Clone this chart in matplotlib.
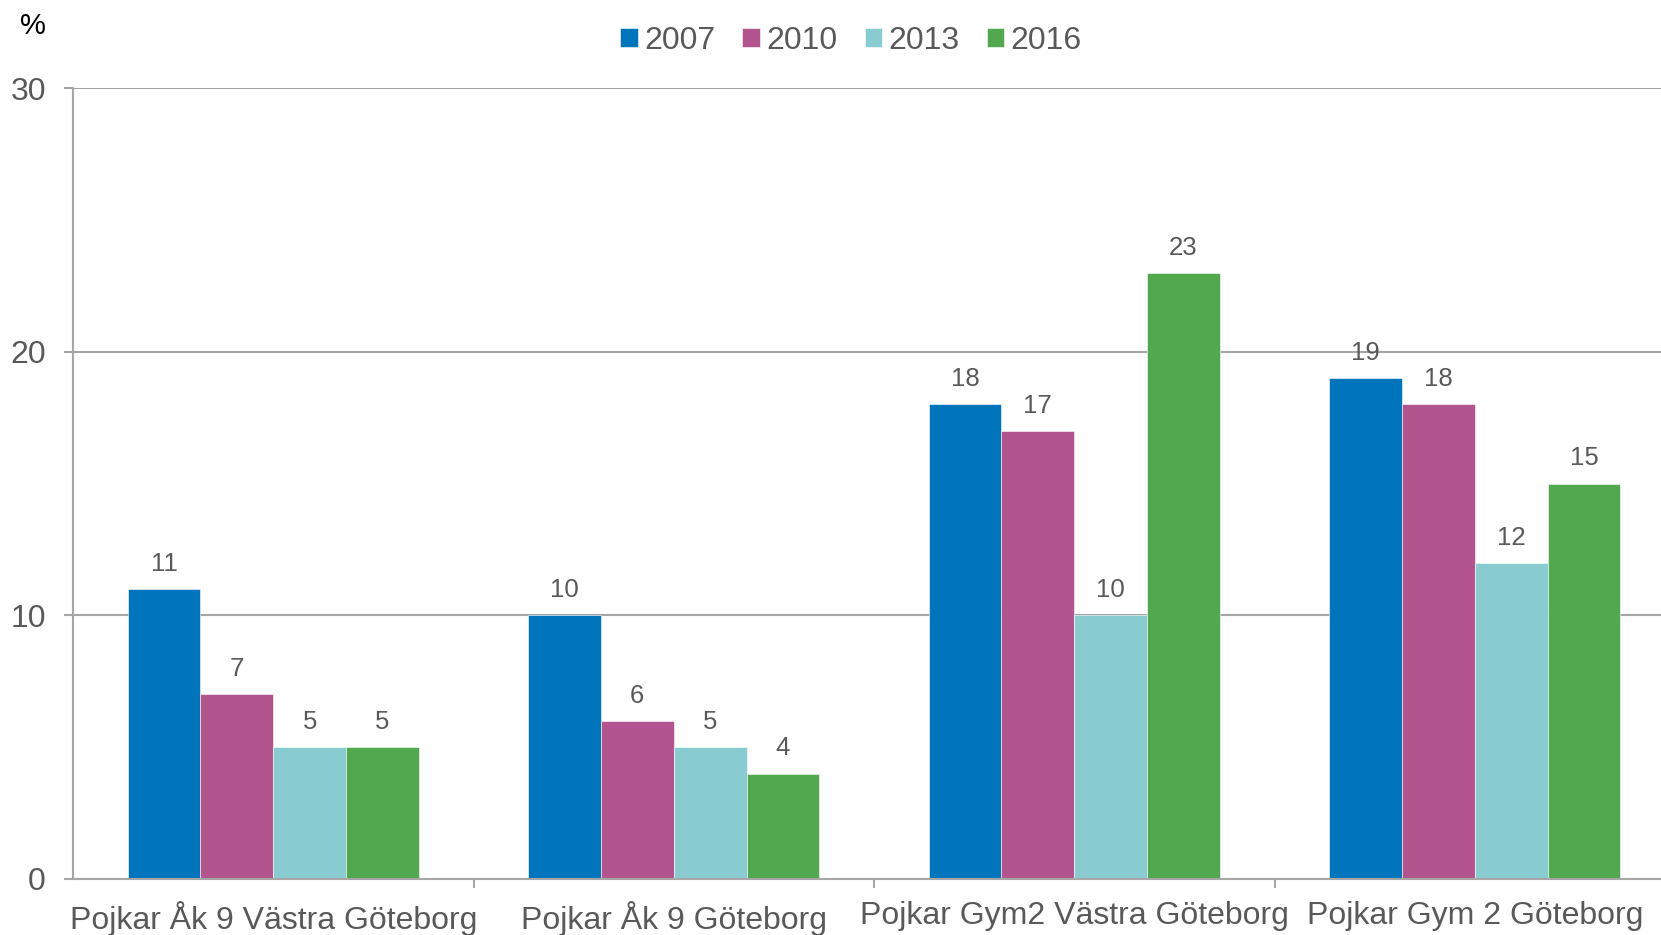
import matplotlib
matplotlib.use("Agg")
import matplotlib.pyplot as plt
import numpy as np

categories = ["Pojkar Åk 9 Västra Göteborg", "Pojkar Åk 9 Göteborg",
              "Pojkar Gym2 Västra Göteborg", "Pojkar Gym 2 Göteborg"]
years = ["2007", "2010", "2013", "2016"]
v2007 = [11, 10, 18, 19]
v2010 = [7, 6, 17, 18]
v2013 = [5, 5, 10, 12]
v2016 = [5, 4, 23, 15]
series = [v2007, v2010, v2013, v2016]
colors = ["#0075BC", "#B2558F", "#88CCD2", "#51A84F"]
yticks = [0, 10, 20, 30]

plt.rcParams['font.family'] = ['Liberation Sans', 'DejaVu Sans']
TXT = "#595959"
GRID = "#A6A6A6"

fig = plt.figure(figsize=(16.61, 9.35), dpi=100)
ax = fig.add_axes([73/1661, 1-879/935, (1675-73)/1661, (879-88)/935])

x = np.arange(len(categories))
w = 0.727 / 4
for i, (vals, c, yr) in enumerate(zip(series, colors, years)):
    pos = x + (i - 1.5) * w
    bars = ax.bar(pos, vals, width=w, color=c, label=yr, zorder=3,
                  edgecolor="white", linewidth=0.4)
    for b, v in zip(bars, vals):
        ax.annotate(str(v), (b.get_x() + b.get_width()/2, v),
                    xytext=(0, 13), textcoords="offset points",
                    ha="center", va="baseline", fontsize=18.5, color=TXT)

ax.set_xlim(-0.5, 3.5)
ax.set_ylim(0, 30)
ax.set_yticks(yticks)
ax.yaxis.grid(True, color=GRID, linewidth=1.5, zorder=0)
ax.set_axisbelow(True)
for s in ["top", "right"]:
    ax.spines[s].set_visible(False)
for s in ["left", "bottom"]:
    ax.spines[s].set_color(GRID)
    ax.spines[s].set_linewidth(1.5)
ax.spines["bottom"].set_zorder(4)

ax.set_xticks(x)
ax.set_xticklabels(categories)
ax.set_xticks([0.5, 1.5, 2.5], minor=True)
ax.tick_params(axis="x", which="major", length=0, pad=16, labelsize=23, labelcolor=TXT)
ax.tick_params(axis="x", which="minor", length=6.5, width=1.5, color=GRID)
ax.tick_params(axis="y", length=6.5, width=1.5, color=GRID, pad=13, labelsize=23, labelcolor=TXT)

fig.text(33/1661, 1-26/935, "%", fontsize=21, color="black", ha="center", va="center")

leg = fig.legend(loc="center", bbox_to_anchor=(851/1661, 1-41/935), ncol=4,
                 frameon=False, fontsize=23, handlelength=0.55, handleheight=0.55,
                 handletextpad=0.2, columnspacing=0.85, borderpad=0)
for t in leg.get_texts():
    t.set_color(TXT)

fig.savefig("out.png", dpi=100)
